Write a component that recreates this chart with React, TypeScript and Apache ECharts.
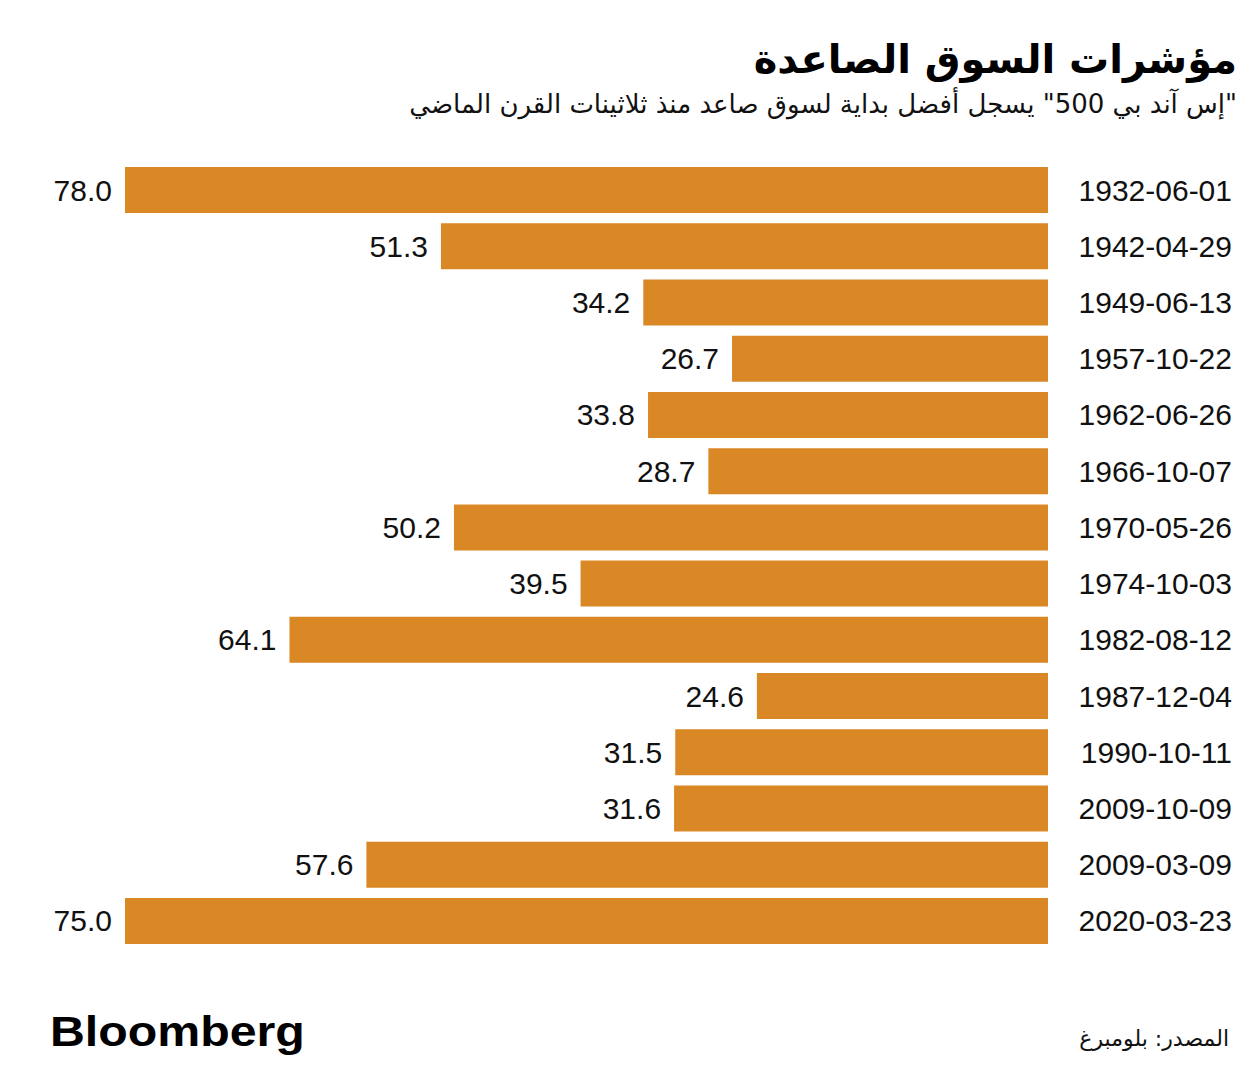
import React, { useEffect, useRef } from "react";
import * as echarts from "echarts";

const categories = [
  "1932-06-01", "1942-04-29", "1949-06-13", "1957-10-22", "1962-06-26",
  "1966-10-07", "1970-05-26", "1974-10-03", "1982-08-12", "1987-12-04",
  "1990-10-11", "2009-10-09", "2009-03-09", "2020-03-23",
];
// bar lengths as drawn in the reference
const barValues = [78.0, 51.3, 34.2, 26.7, 33.8, 28.7, 50.2, 39.5, 64.1, 24.6, 31.5, 31.6, 57.6, 78.0];
// value labels as printed in the reference
const valueLabels = ["78.0", "51.3", "34.2", "26.7", "33.8", "28.7", "50.2", "39.5", "64.1", "24.6", "31.5", "31.6", "57.6", "75.0"];

const titleText = "مؤشرات السوق الصاعدة";
const subtitleText = "\"إس آند بي 500\" يسجل أفضل بداية لسوق صاعد منذ ثلاثينات القرن الماضي";
const sourceText = "المصدر: بلومبرغ";
const logoText = "Bloomberg";

const RLM = "\u200F";

export default function App() {
  const ref = useRef<HTMLDivElement>(null);
  useEffect(() => {
    document.body.style.margin = "0";
    const chart = echarts.init(ref.current!, null, { renderer: "svg" });
    const numFont = "'Liberation Sans', Arial, sans-serif";
    const arFont = "'DejaVu Sans', 'Noto Sans', sans-serif";
    chart.setOption({
      animation: false,
      backgroundColor: "#ffffff",
      grid: { left: 125, right: 211, top: 162, height: 787, containLabel: false },
      xAxis: {
        type: "value",
        inverse: true,
        min: 0,
        max: 78,
        show: false,
      },
      yAxis: {
        type: "category",
        data: categories,
        inverse: true,
        position: "right",
        axisLine: { show: false },
        axisTick: { show: false },
        splitLine: { show: false },
        axisLabel: {
          align: "right",
          margin: 184,
          fontSize: 30,
          color: "#111111",
          fontFamily: numFont,
        },
      },
      series: [
        {
          type: "bar",
          data: barValues,
          barWidth: 46,
          itemStyle: { color: "#DA8726" },
          label: {
            show: true,
            position: "left",
            distance: 13,
            fontSize: 30,
            color: "#111111",
            fontFamily: numFont,
            formatter: (p: any) => valueLabels[p.dataIndex],
          },
        },
      ],
      graphic: [
        {
          type: "text",
          right: 22,
          top: 39,
          style: {
            text: titleText,
            fontSize: 40,
            fontWeight: "bold",
            fill: "#000000",
            fontFamily: arFont,
          },
        },
        {
          type: "text",
          right: 22,
          top: 91,
          style: {
            text: RLM + subtitleText + RLM,
            fontSize: 26,
            fill: "#111111",
            fontFamily: arFont,
          },
        },
        {
          type: "text",
          x: 50,
          y: 1011,
          scaleX: 1.15,
          style: {
            text: logoText,
            fontSize: 42,
            fontWeight: "bold",
            fill: "#000000",
            fontFamily: numFont,
          },
        },
        {
          type: "text",
          right: 30,
          top: 1027,
          style: {
            text: sourceText,
            fontSize: 22,
            fill: "#111111",
            fontFamily: arFont,
          },
        },
      ],
    });
    return () => chart.dispose();
  }, []);
  return <div ref={ref} style={{ width: 1259, height: 1080 }} />;
}
